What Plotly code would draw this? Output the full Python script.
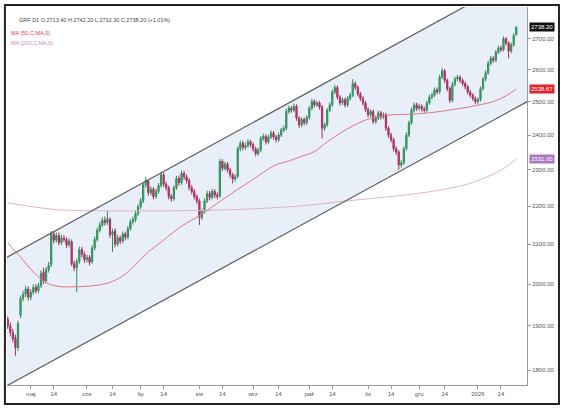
import math
import pandas as pd
import plotly.graph_objects as go

# daily candles, 18.04.2025 - 23.01.2026
opens = [1915, 1900, 1885, 1872, 1850, 1925, 1965, 1975, 1988, 1968,
         1980, 1992, 1984, 1996, 2030, 2008, 2035, 2048, 2126, 2110,
         2122, 2104, 2116, 2112, 2098, 2106, 2050, 2040, 2056, 2086,
         2074, 2060, 2066, 2056, 2090, 2112, 2136, 2150, 2162, 2156,
         2164, 2124, 2134, 2100, 2116, 2108, 2126, 2118, 2140, 2158,
         2164, 2180, 2198, 2214, 2258, 2268, 2236, 2246, 2226, 2240,
         2256, 2286, 2260, 2250, 2226, 2220, 2250, 2276, 2264, 2290,
         2280, 2270, 2250, 2240, 2226, 2214, 2170, 2186, 2214, 2234,
         2224, 2240, 2230, 2228, 2324, 2304, 2316, 2300, 2286, 2274,
         2282, 2360, 2376, 2364, 2370, 2380, 2372, 2360, 2346, 2356,
         2390, 2396, 2380, 2394, 2406, 2394, 2386, 2400, 2414, 2420,
         2470, 2480, 2474, 2486, 2450, 2430, 2446, 2436, 2452, 2480,
         2500, 2490, 2496, 2484, 2420, 2430, 2474, 2490, 2530, 2544,
         2514, 2496, 2506, 2490, 2510, 2520, 2556, 2544, 2524, 2510,
         2496, 2476, 2460, 2470, 2440, 2450, 2466, 2454, 2460, 2420,
         2400, 2386, 2360, 2350, 2314, 2320, 2360, 2400, 2436, 2474,
         2490, 2480, 2486, 2478, 2474, 2496, 2514, 2520, 2536, 2530,
         2576, 2596, 2566, 2540, 2504, 2554, 2570, 2576, 2566, 2556,
         2546, 2530, 2520, 2510, 2500, 2506, 2540, 2570, 2590, 2620,
         2636, 2630, 2656, 2670, 2664, 2700, 2686, 2660, 2680, 2713.4]

highs = [1922, 1908, 1893, 1880, 1912, 1972, 1984, 1996, 1994, 1987,
         1999, 2000, 2003, 2034, 2040, 2042, 2055, 2134, 2133, 2130,
         2130, 2124, 2123, 2118, 2115, 2112, 2058, 2064, 2094, 2093,
         2081, 2073, 2072, 2097, 2120, 2143, 2158, 2170, 2172, 2188,
         2170, 2140, 2141, 2124, 2122, 2133, 2132, 2147, 2165, 2172,
         2188, 2205, 2222, 2265, 2280, 2274, 2254, 2252, 2248, 2263,
         2294, 2292, 2267, 2256, 2233, 2257, 2283, 2284, 2298, 2297,
         2287, 2276, 2257, 2246, 2232, 2220, 2193, 2221, 2242, 2241,
         2247, 2246, 2237, 2331, 2330, 2323, 2322, 2306, 2292, 2288,
         2367, 2384, 2383, 2378, 2388, 2386, 2378, 2366, 2363, 2397,
         2404, 2402, 2401, 2414, 2412, 2400, 2407, 2421, 2428, 2478,
         2488, 2487, 2494, 2492, 2456, 2453, 2452, 2459, 2487, 2508,
         2507, 2503, 2502, 2490, 2437, 2481, 2498, 2538, 2552, 2550,
         2520, 2513, 2512, 2517, 2528, 2570, 2563, 2550, 2530, 2517,
         2502, 2483, 2477, 2476, 2457, 2473, 2472, 2468, 2466, 2426,
         2407, 2392, 2367, 2356, 2328, 2367, 2408, 2443, 2482, 2498,
         2497, 2494, 2492, 2485, 2503, 2522, 2528, 2544, 2543, 2584,
         2606, 2602, 2572, 2546, 2561, 2578, 2584, 2582, 2572, 2562,
         2552, 2537, 2526, 2516, 2513, 2547, 2577, 2598, 2628, 2644,
         2643, 2663, 2678, 2677, 2708, 2706, 2692, 2688, 2718, 2742.2]

lows = [1893, 1876, 1862, 1832, 1843, 1918, 1958, 1968, 1960, 1961,
        1974, 1977, 1978, 1990, 2000, 2002, 2028, 2042, 2102, 2104,
        2097, 2098, 2105, 2090, 2092, 2044, 2032, 1980, 2050, 2066,
        2052, 2053, 2046, 2050, 2084, 2106, 2130, 2144, 2148, 2150,
        2116, 2080, 2092, 2094, 2100, 2102, 2110, 2112, 2134, 2151,
        2157, 2173, 2192, 2208, 2250, 2228, 2229, 2218, 2220, 2233,
        2250, 2252, 2242, 2218, 2212, 2214, 2244, 2256, 2258, 2272,
        2262, 2243, 2232, 2218, 2206, 2150, 2163, 2180, 2208, 2216,
        2218, 2222, 2218, 2222, 2296, 2298, 2292, 2278, 2262, 2267,
        2276, 2353, 2356, 2357, 2363, 2364, 2352, 2338, 2340, 2350,
        2383, 2372, 2374, 2388, 2386, 2378, 2380, 2394, 2408, 2414,
        2463, 2466, 2468, 2442, 2422, 2424, 2428, 2430, 2446, 2474,
        2482, 2484, 2476, 2390, 2412, 2424, 2468, 2484, 2523, 2506,
        2488, 2490, 2482, 2484, 2503, 2514, 2536, 2516, 2502, 2488,
        2468, 2452, 2453, 2432, 2433, 2444, 2446, 2447, 2412, 2392,
        2378, 2352, 2342, 2300, 2306, 2314, 2354, 2394, 2430, 2467,
        2472, 2473, 2470, 2466, 2468, 2490, 2507, 2514, 2522, 2524,
        2570, 2558, 2532, 2496, 2498, 2547, 2563, 2558, 2548, 2538,
        2522, 2512, 2502, 2492, 2493, 2500, 2534, 2563, 2584, 2613,
        2622, 2624, 2650, 2656, 2658, 2678, 2636, 2652, 2674, 2710.3]

closes = [1900, 1885, 1870, 1850, 1905, 1965, 1975, 1988, 1968, 1980,
          1992, 1984, 1996, 2026, 2008, 2035, 2046, 2126, 2110, 2122,
          2104, 2116, 2112, 2098, 2108, 2050, 2040, 2056, 2086, 2074,
          2060, 2066, 2054, 2090, 2112, 2136, 2150, 2162, 2156, 2166,
          2124, 2132, 2100, 2116, 2108, 2126, 2118, 2140, 2158, 2164,
          2180, 2198, 2214, 2258, 2270, 2236, 2246, 2226, 2240, 2256,
          2286, 2260, 2250, 2226, 2220, 2250, 2276, 2264, 2290, 2280,
          2270, 2250, 2240, 2226, 2214, 2170, 2186, 2214, 2234, 2224,
          2240, 2230, 2226, 2324, 2304, 2316, 2300, 2286, 2274, 2280,
          2360, 2376, 2364, 2370, 2380, 2372, 2360, 2346, 2356, 2390,
          2396, 2380, 2394, 2406, 2394, 2386, 2400, 2414, 2420, 2470,
          2480, 2474, 2486, 2450, 2430, 2446, 2436, 2452, 2480, 2500,
          2490, 2496, 2484, 2420, 2430, 2474, 2490, 2530, 2544, 2514,
          2496, 2506, 2490, 2510, 2520, 2556, 2544, 2524, 2510, 2496,
          2476, 2460, 2470, 2440, 2450, 2466, 2454, 2460, 2420, 2400,
          2386, 2360, 2350, 2314, 2320, 2360, 2400, 2436, 2474, 2490,
          2480, 2486, 2478, 2474, 2496, 2514, 2520, 2536, 2530, 2576,
          2596, 2566, 2540, 2504, 2554, 2570, 2576, 2566, 2556, 2546,
          2530, 2520, 2510, 2500, 2506, 2540, 2570, 2590, 2620, 2636,
          2630, 2656, 2670, 2664, 2700, 2686, 2660, 2680, 2711, 2738.2]

ma50_idx = list(range(0, 200, 5)) + [199]
ma50_val = [2103, 2067, 2030, 2003, 1994, 1993, 1994, 1997, 2004, 2020,
            2048, 2080, 2105, 2132, 2155, 2174, 2198, 2222, 2246, 2268,
            2293, 2314, 2325, 2338, 2352, 2380, 2405, 2427, 2444, 2455,
            2460, 2461, 2463, 2466, 2471, 2477, 2483, 2491, 2500, 2518,
            2538.67]

ma200_idx = list(range(0, 200, 10)) + [195, 199]
ma200_val = [2209, 2198, 2190, 2188, 2187, 2187, 2187, 2188, 2189, 2191,
             2194, 2198, 2204, 2212, 2219, 2226, 2234, 2245, 2260, 2288,
             2308, 2331]

# regression channel (start / end)
chan_idx = [-1, 204]
chan_top = [2064, 2932]
chan_bot = [1764, 2503]

yticks = [1800, 1900, 2000, 2100, 2200, 2300, 2400, 2500, 2600, 2700]
mies = {1: "2026", 5: "maj", 6: "cze", 7: "lip", 8: "sie", 9: "wrz",
        10: "paź", 11: "lis", 12: "gru"}

dates = pd.bdate_range("2025-04-18", periods=len(closes))
x = list(range(len(closes)))

tickvals, ticktext = [], []
for i, d in enumerate(dates):
    if i > 0 and d.month != dates[i - 1].month:
        tickvals.append(i)
        ticktext.append(mies.get(d.month, ""))
    if 14 <= d.day <= 16 and (i == 0 or dates[i - 1].day < 14):
        tickvals.append(i)
        ticktext.append("14")

FONT = "Liberation Sans"
lg = math.log10
fig = go.Figure()

# tło kanału jako kształt pod świecami (kształty na osi log biorą wartości danych)
chan_path = (f"M {chan_idx[0]},{chan_bot[0]} L {chan_idx[1]},{chan_bot[1]} "
             f"L {chan_idx[1]},{chan_top[1]} L {chan_idx[0]},{chan_top[0]} Z")
fig.add_shape(type="path", path=chan_path, xref="x", yref="y", layer="below",
              fillcolor="#e9eff8", line=dict(width=0))

fig.add_trace(go.Scatter(x=ma200_idx, y=ma200_val, mode="lines",
                         line=dict(color="#e2b4cc", width=1, shape="spline"),
                         hoverinfo="skip"))
fig.add_trace(go.Scatter(x=ma50_idx, y=ma50_val, mode="lines",
                         line=dict(color="#e07482", width=1, shape="spline"),
                         hoverinfo="skip"))
for edge in (chan_bot, chan_top):
    fig.add_trace(go.Scatter(x=chan_idx, y=edge, mode="lines",
                             line=dict(color="#5a5a5a", width=1.2), hoverinfo="skip"))

fig.add_trace(go.Candlestick(
    x=x, open=opens, high=highs, low=lows, close=closes,
    increasing=dict(line=dict(color="#2f8f5b", width=1), fillcolor="#4aa86e"),
    decreasing=dict(line=dict(color="#a8305e", width=1), fillcolor="#c8346c"),
    whiskerwidth=0, hoverinfo="skip"))

fig.update_xaxes(range=[-0.3, 203.2], tickvals=tickvals, ticktext=ticktext,
                 showgrid=False, zeroline=False, showline=True, linecolor="#9a9a9a",
                 ticks="outside", ticklen=3, tickcolor="#9a9a9a",
                 tickfont=dict(size=6, color="#555", family=FONT),
                 rangeslider_visible=False)
fig.update_yaxes(type="log", side="right",
                 range=[lg(1767.5), lg(2807)],
                 tickvals=yticks, ticktext=[f"{v:.2f}" for v in yticks],
                 showgrid=False, zeroline=False, showline=True, linecolor="#9a9a9a",
                 ticks="outside", ticklen=3, tickcolor="#9a9a9a",
                 tickfont=dict(size=6, color="#555", family=FONT))

# etykiety cen po prawej
for val, bg in [(2738.20, "#111111"), (2538.67, "#e3222d"), (2331.00, "#a878bd")]:
    fig.add_annotation(x=1, xref="paper", xanchor="left", xshift=2,
                       y=lg(val), yref="y", text=f"{val:.2f}",
                       showarrow=False, bgcolor=bg, borderpad=1,
                       font=dict(size=6, color="white", family=FONT))

fig.add_annotation(x=0.02, y=0.978, xref="paper", yref="paper", xanchor="left",
                   text="GRF D1 O:2713.40 H:2742.20 L:2710.30 C:2738.20 (+1.01%)",
                   showarrow=False, font=dict(size=5.5, color="#444", family=FONT))
fig.add_annotation(x=0.004, y=0.945, xref="paper", yref="paper", xanchor="left",
                   text="MA (50,C,MA,0)", showarrow=False,
                   font=dict(size=5.5, color="#e0404e", family=FONT))
fig.add_annotation(x=0.004, y=0.918, xref="paper", yref="paper", xanchor="left",
                   text="MA (200,C,MA,0)", showarrow=False,
                   font=dict(size=5.5, color="#c88ab4", family=FONT))

# ramka wokół wykresu
fig.add_shape(type="rect", xref="paper", yref="paper",
              x0=-0.004, x1=1.0615, y0=-0.0503, y1=1.005,
              line=dict(color="#222", width=2))

fig.update_layout(
    width=564, height=411,
    margin=dict(l=7, r=37, t=7, b=26),
    paper_bgcolor="white", plot_bgcolor="white",
    showlegend=False,
    font=dict(family=FONT),
)

fig.write_html("out.html", config={"displayModeBar": False},
               post_script="document.body.style.margin='0px';")
